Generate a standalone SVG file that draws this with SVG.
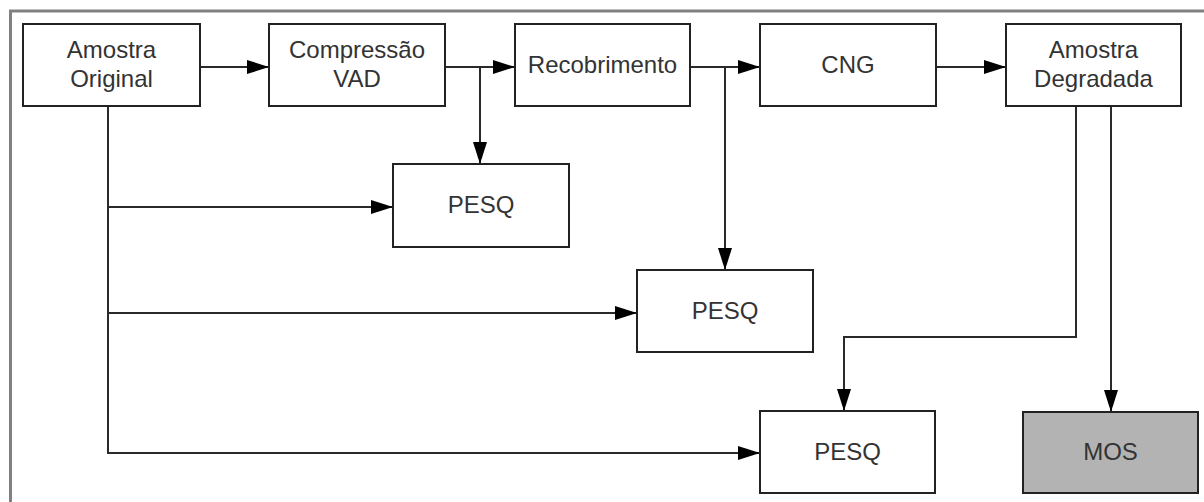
<svg xmlns="http://www.w3.org/2000/svg" width="1204" height="502" viewBox="0 0 1204 502">
  <style>
    .box { fill: #ffffff; stroke: #222222; stroke-width: 2; }
    .mos { fill: #b3b3b3; stroke: #222222; stroke-width: 2; }
    .lbl { font-family: "Liberation Sans", Arial, sans-serif; font-size: 24px; fill: #333333; text-anchor: middle; }
    .conn { fill: none; stroke: #2a2a2a; stroke-width: 2; }
    .frame { fill: none; stroke: #808080; stroke-width: 3; }
  </style>
  <defs>
    <marker id="arrow" markerUnits="userSpaceOnUse" markerWidth="22" markerHeight="16" viewBox="0 0 22 16" refX="22" refY="8" orient="auto">
      <path d="M0,1 L22,8 L0,15 Z" fill="#000000"/>
    </marker>
  </defs>
  <rect width="1204" height="502" fill="#ffffff"/>
  <path class="frame" d="M10.5,520 L10.5,11 L1220,11"/>

  <g id="connectors">
    <path class="conn" d="M200,67 L269,67" marker-end="url(#arrow)"/>
    <path class="conn" d="M445,67 L515,67" marker-end="url(#arrow)"/>
    <path class="conn" d="M480,67 L480,164" marker-end="url(#arrow)"/>
    <path class="conn" d="M690,67 L760,67" marker-end="url(#arrow)"/>
    <path class="conn" d="M725,67 L725,270" marker-end="url(#arrow)"/>
    <path class="conn" d="M936,67 L1006,67" marker-end="url(#arrow)"/>
    <path class="conn" d="M1076,106 L1076,337 L844,337 L844,411" marker-end="url(#arrow)"/>
    <path class="conn" d="M1111,106 L1111,412" marker-end="url(#arrow)"/>
    <path class="conn" d="M108,106 L108,453 L760,453" marker-end="url(#arrow)"/>
    <path class="conn" d="M108,207 L393,207" marker-end="url(#arrow)"/>
    <path class="conn" d="M108,313 L637,313" marker-end="url(#arrow)"/>
  </g>

  <g id="amostra-original">
    <rect class="box" x="23" y="24" width="177" height="82"/>
    <text class="lbl" x="111.5" y="58">Amostra</text>
    <text class="lbl" x="111.5" y="87">Original</text>
  </g>
  <g id="compressao-vad">
    <rect class="box" x="269" y="24" width="176" height="82"/>
    <text class="lbl" x="357" y="58">Compressão</text>
    <text class="lbl" x="357" y="87">VAD</text>
  </g>
  <g id="recobrimento">
    <rect class="box" x="515" y="24" width="175" height="82"/>
    <text class="lbl" x="602.5" y="73">Recobrimento</text>
  </g>
  <g id="cng">
    <rect class="box" x="760" y="24" width="176" height="82"/>
    <text class="lbl" x="848" y="73">CNG</text>
  </g>
  <g id="amostra-degradada">
    <rect class="box" x="1006" y="24" width="175" height="82"/>
    <text class="lbl" x="1093.5" y="58">Amostra</text>
    <text class="lbl" x="1093.5" y="87">Degradada</text>
  </g>
  <g id="pesq1">
    <rect class="box" x="393" y="164" width="176" height="83"/>
    <text class="lbl" x="481" y="213">PESQ</text>
  </g>
  <g id="pesq2">
    <rect class="box" x="637" y="270" width="176" height="82"/>
    <text class="lbl" x="725" y="319">PESQ</text>
  </g>
  <g id="pesq3">
    <rect class="box" x="760" y="411" width="175" height="82"/>
    <text class="lbl" x="847.5" y="460">PESQ</text>
  </g>
  <g id="mos">
    <rect class="mos" x="1023" y="412" width="175" height="81"/>
    <text class="lbl" x="1110.5" y="460">MOS</text>
  </g>
</svg>
